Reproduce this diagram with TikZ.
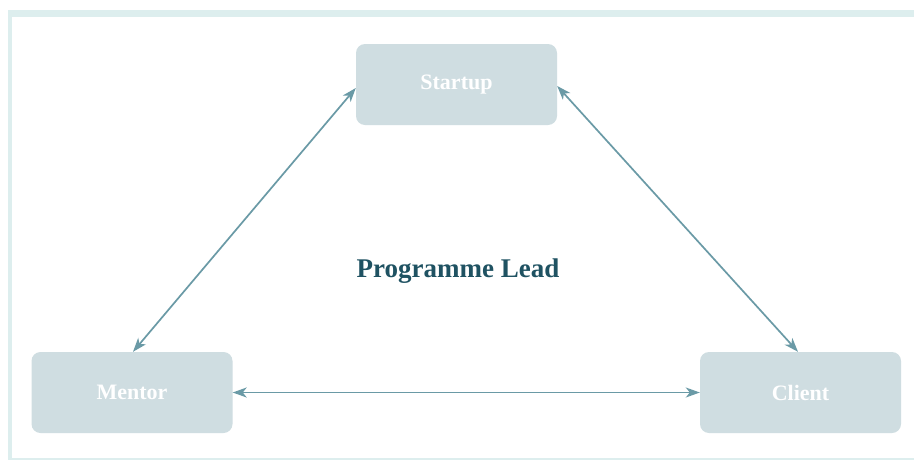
\documentclass[tikz,border=0pt]{standalone}
\usepackage{fontspec}
\setmainfont{Liberation Serif}
\usetikzlibrary{arrows.meta}
\definecolor{boxfill}{HTML}{CFDDE1}
\definecolor{framec}{HTML}{DDEEEE}
\definecolor{arrowc}{HTML}{6A9AA6}
\definecolor{leadc}{HTML}{1F5262}
\tikzset{
  px/.style={x=1pt,y=-1pt},
  rolebox/.style={fill=boxfill, rounded corners=9pt, minimum width=201pt, minimum height=81pt, inner sep=0pt, text=white, font=\fontsize{22}{26}\selectfont\bfseries},
  link/.style={draw=arrowc, line width=1.7pt, {Stealth[length=14pt,width=10pt,inset=4pt]}-{Stealth[length=14pt,width=10pt,inset=4pt]}}
}
\begin{document}
\begin{tikzpicture}[px]
\useasboundingbox (0,0) rectangle (914,461);
\fill[white] (0,0) rectangle (914,461);
% frame
\fill[framec] (8,10) rectangle (914,17);
\fill[framec] (8,10) rectangle (12,460);
\fill[framec] (8,458) rectangle (914,460);
% boxes
\node[rolebox] (startup) at (456.5,84.5) {Startup};
\node[rolebox] (mentor) at (132,392.5) {Mentor};
\node[rolebox] (client) at (800.5,392.5) {Client};
\node[text=leadc, font=\fontsize{27}{32}\selectfont\bfseries] (lead) at (458,271) {Programme Lead};
% links
\coordinate (sL) at (355,88);
\coordinate (sR) at (558,86);
\coordinate (mT) at (133,351);
\coordinate (cT) at (798,351);
\draw[link] (startup.west |- sL) -- (mentor.north -| mT);
\draw[link] (startup.east |- sR) -- (client.north -| cT);
\draw[link] (mentor.east) -- (client.west);
\end{tikzpicture}
\end{document}
